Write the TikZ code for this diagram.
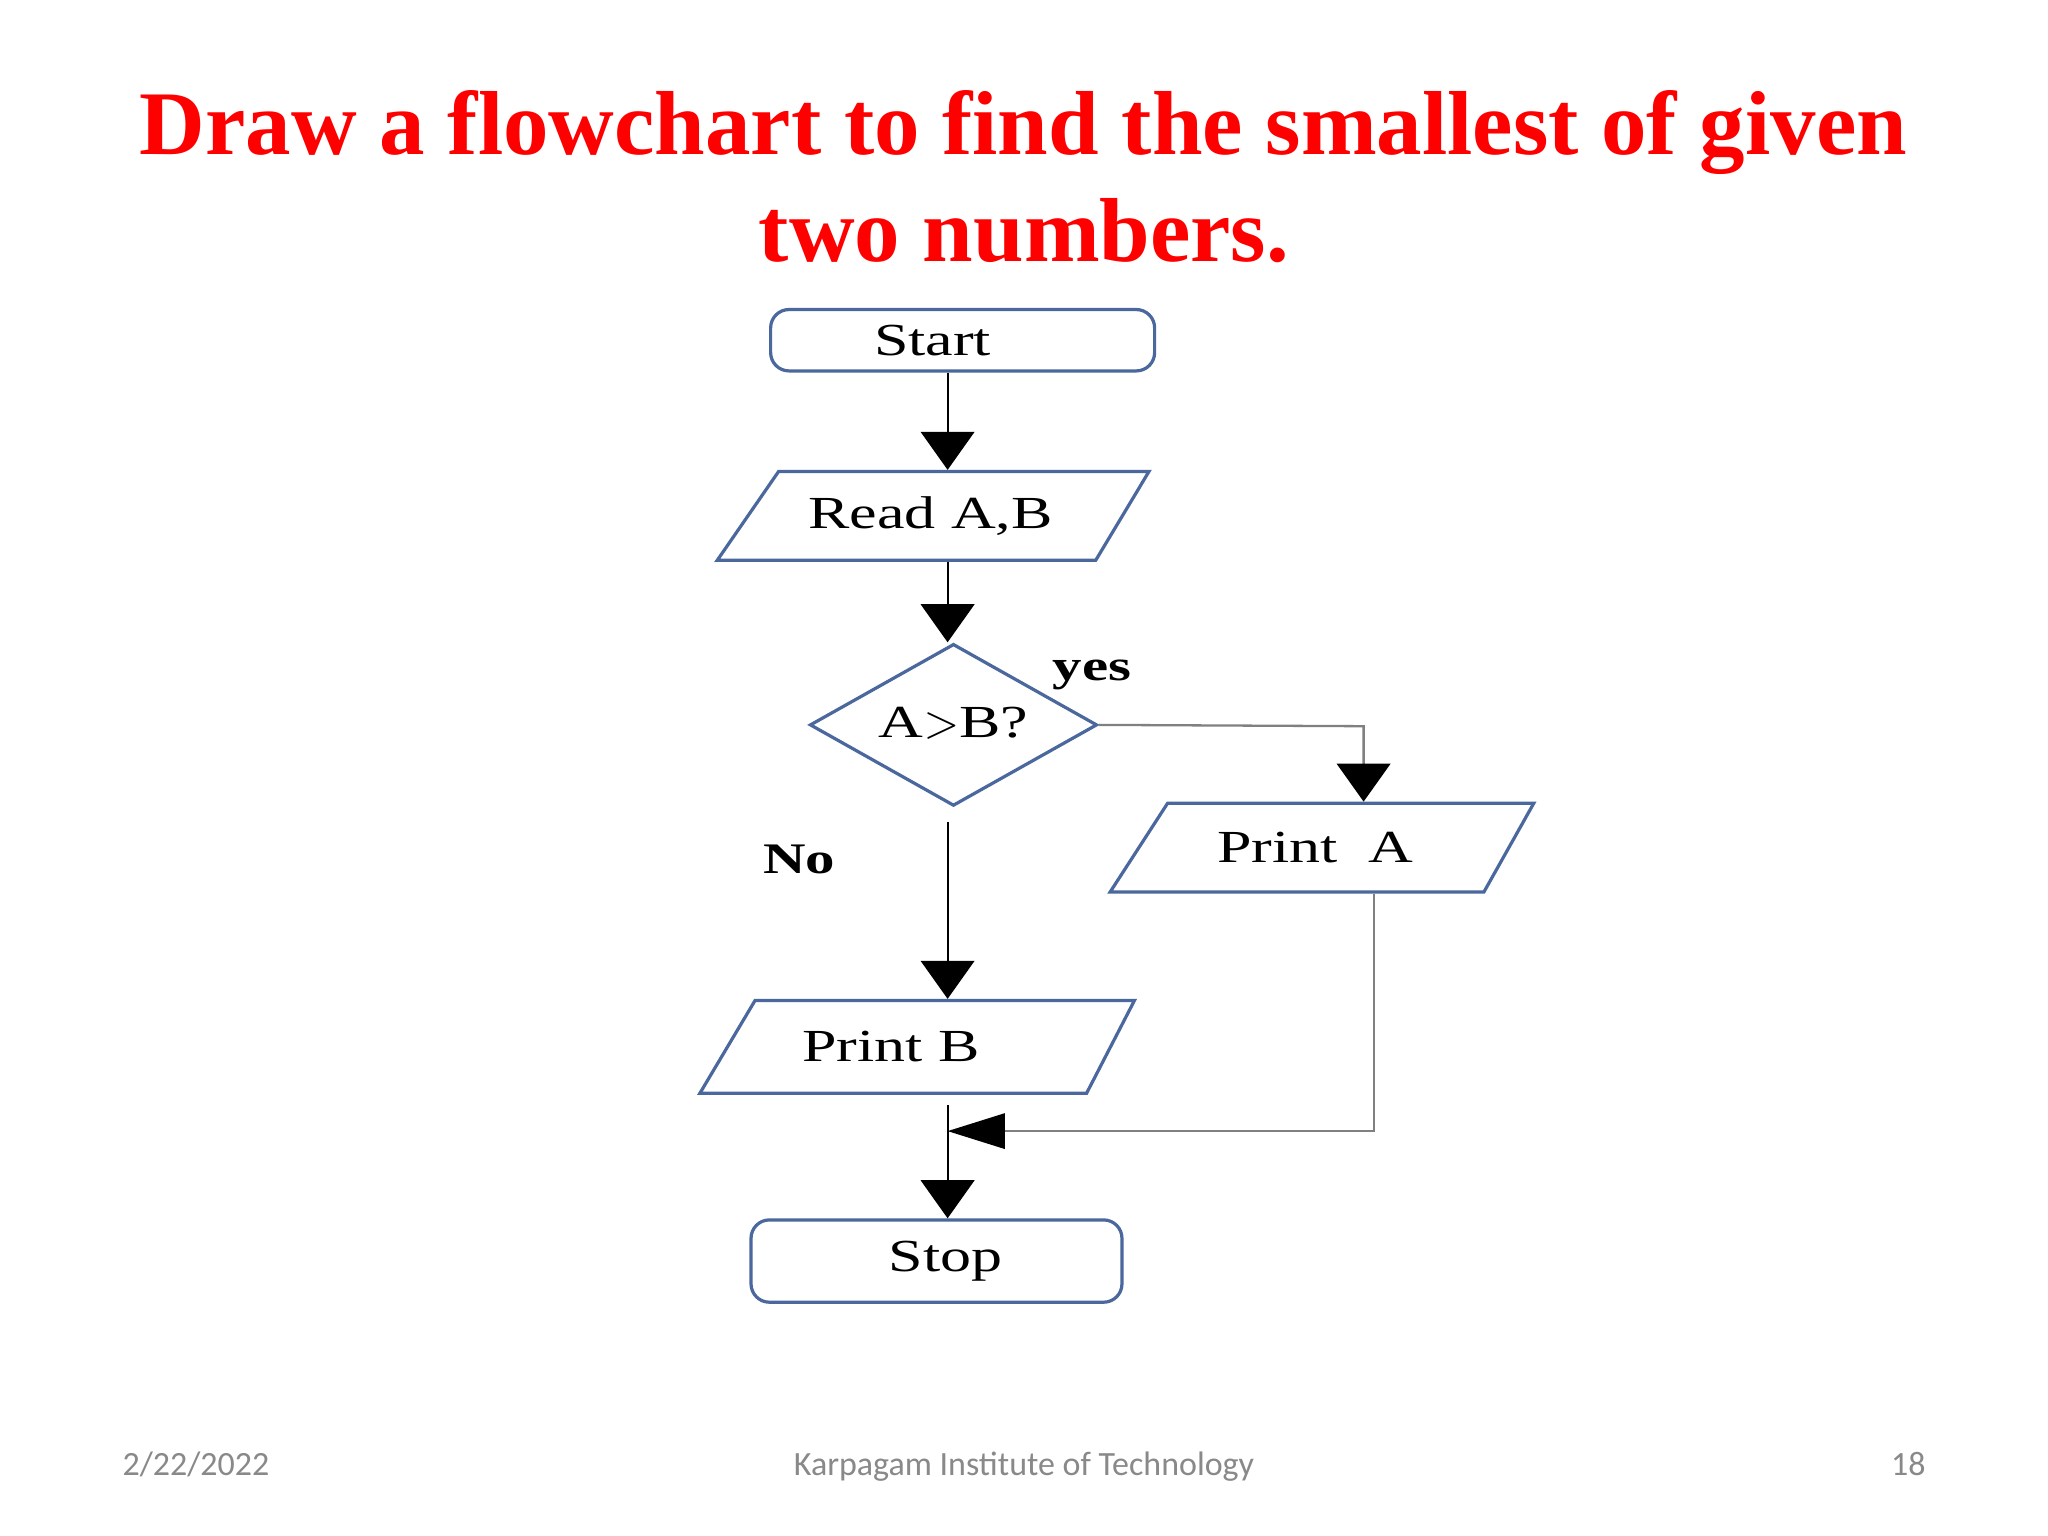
\documentclass[tikz,border=0pt]{standalone}
\usepackage{fontspec}
\setmainfont{Liberation Serif}
\newfontfamily\chartfont[FakeStretch=1.35]{Liberation Serif}
\newfontfamily\footfont{Carlito}
\usetikzlibrary{shapes.geometric,arrows.meta}
\definecolor{titlered}{RGB}{255,0,0}
\definecolor{boxblue}{RGB}{74,104,158}
\definecolor{footgray}{RGB}{137,137,137}
\definecolor{linegray}{RGB}{128,128,128}

\begin{document}
\begin{tikzpicture}[
	term/.style={draw=boxblue,line width=0.7pt,rounded corners=4pt,inner sep=0pt,font=\chartfont\fontsize{10}{12}\selectfont},
	io/.style={trapezium,trapezium left angle=38,trapezium right angle=138,trapezium stretches=true,draw=boxblue,line width=0.7pt,inner sep=0pt,font=\chartfont\fontsize{10}{12}\selectfont},
	test/.style={diamond,draw=boxblue,line width=0.7pt,inner sep=0pt,font=\chartfont\fontsize{10}{12}\selectfont},
	flow/.style={-{Triangle[width=11.7pt,length=8.3pt]},line width=0.4pt},
	grayflow/.style={-{Triangle[width=11.7pt,length=8.3pt,color=black]},draw=linegray,line width=0.5pt},
	joinflow/.style={-{Triangle[width=7.7pt,length=12.5pt,color=black]},draw=linegray,line width=0.5pt},
	tag/.style={font=\chartfont\bfseries\fontsize{9.5}{11}\selectfont},
	foot/.style={font=\footfont\fontsize{7.4}{9}\selectfont,text=footgray,anchor=base}
]
	\useasboundingbox[fill=white] (0,0) rectangle (15.68,-11.76);
	% title
	\node[anchor=base,text=titlered,font=\bfseries\fontsize{19.8}{24}\selectfont] (title1) at (7.835,-1.18) {Draw a flowchart to find the smallest of given};
	\node[anchor=base,text=titlered,font=\bfseries\fontsize{19.8}{24}\selectfont] (title2) at (7.84,-2.00) {two numbers.};
	% boxes
	\node[term,minimum width=2.94cm,minimum height=0.47cm] (start) at (7.37,-2.605) {Start\hspace*{0.46cm}};
	\node[io,minimum width=3.33cm,minimum height=0.68cm] (readab) at (7.175,-3.95) {Read A,B\hspace*{0.1cm}};
	\node[test,minimum width=2.2cm,minimum height=1.24cm] (dec) at (7.30,-5.55) {\makebox[0pt]{\raisebox{-0.6ex}[0pt][0pt]{A$>$B?}}};
	\node[io,minimum width=3.26cm,minimum height=0.68cm] (printa) at (10.15,-6.49) {Print\ \ A\hspace*{0.16cm}};
	\node[io,minimum width=3.34cm,minimum height=0.71cm] (printb) at (7.05,-8.015) {Print B\hspace*{0.46cm}};
	\node[term,minimum width=2.84cm,minimum height=0.63cm] (stop) at (7.17,-9.655) {\hspace*{0.14cm}Stop};
	\node[tag] (yes) at (8.36,-5.17) {yes};
	\node[tag] (no) at (6.12,-6.58) {No};
	% connectors
	\coordinate (spine) at (7.255,0);
	\coordinate (yesdrop) at (10.44,-5.56);
	\coordinate (joinright) at (10.52,-8.66);
	\coordinate (join) at (spine |- joinright);
	\draw[flow] (start.south -| spine) -- (readab.north -| spine);
	\draw[flow] (readab.south -| spine) -- (dec.north -| spine);
	\draw[grayflow] (dec.east) -- (yesdrop) -- (yesdrop |- printa.north);
	\draw[flow,shorten <=0.11cm] (dec.south -| spine) -- (printb.north -| spine);
	\draw[flow,shorten <=0.08cm] (printb.south -| spine) -- (stop.north -| spine);
	\draw[joinflow] (printa.south -| joinright) -- (joinright) -- (join);
	% footer
	\node[foot] (date) at (1.50,-11.30) {2/22/2022};
	\node[foot] (inst) at (7.84,-11.30) {Karpagam Institute of Technology};
	\node[foot] (page) at (14.61,-11.30) {18};
\end{tikzpicture}
\end{document}
